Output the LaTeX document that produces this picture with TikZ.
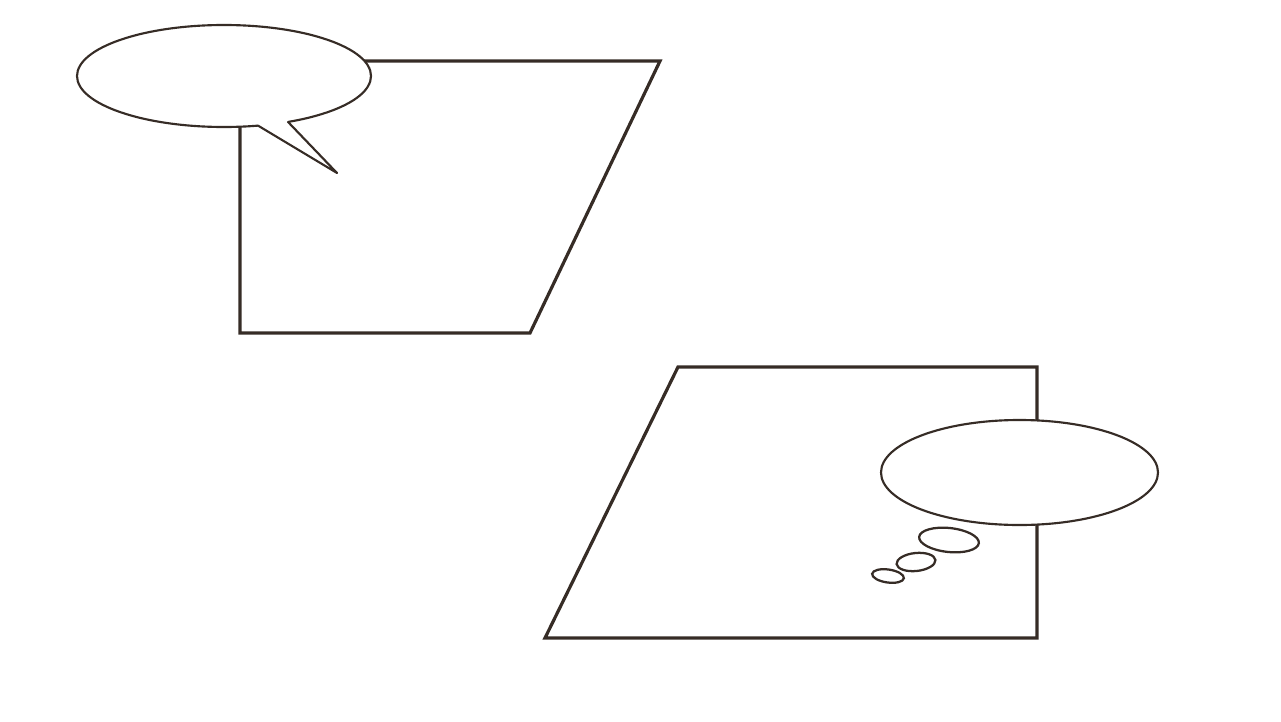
\documentclass[tikz,border=0pt]{standalone}
\usetikzlibrary{shapes.geometric}
\definecolor{ink}{HTML}{362C26}
\tikzset{
  trap/.style={draw=ink, line width=2.4pt, line join=miter},
  bubble/.style={ellipse, draw=ink, fill=white, line width=1.6pt, inner sep=0pt},
  puff/.style={draw=ink, fill=white, line width=1.7pt},
}
\begin{document}
\begin{tikzpicture}[x=0.75pt,y=-0.75pt]
\useasboundingbox (0,0) rectangle (1281,721);
% upper trapezoid
\draw[trap] (240,61) -- (660,61) -- (530,333) -- (240,333) -- cycle;
% speech bubble
\node[bubble, minimum width=220.5pt, minimum height=76.5pt] (speech) at (224,76) {};
\coordinate (tailA) at (258,125.6);
\coordinate (tailTip) at (337,173);
\coordinate (tailB) at (288,121.9);
\fill[white] (tailA) -- (tailTip) -- (tailB) -- (288,117) -- (258,120) -- cycle;
\draw[ink, line width=1.6pt, line join=round, line cap=round] (tailA) -- (tailTip) -- (tailB);
% lower trapezoid
\draw[trap] (678,367) -- (1037,367) -- (1037,638) -- (545,638) -- cycle;
% thought bubble
\node[bubble, minimum width=207.75pt, minimum height=78.75pt] (thought) at (1019.5,472.5) {};
\draw[puff, rotate around={-6:(949,540)}] (949,540) ellipse [x radius=30, y radius=12];
\draw[puff, rotate around={6:(916,562)}] (916,562) ellipse [x radius=19.5, y radius=9];
\draw[puff, rotate around={-8:(888,576)}] (888,576) ellipse [x radius=16, y radius=6.5];
\end{tikzpicture}
\end{document}
